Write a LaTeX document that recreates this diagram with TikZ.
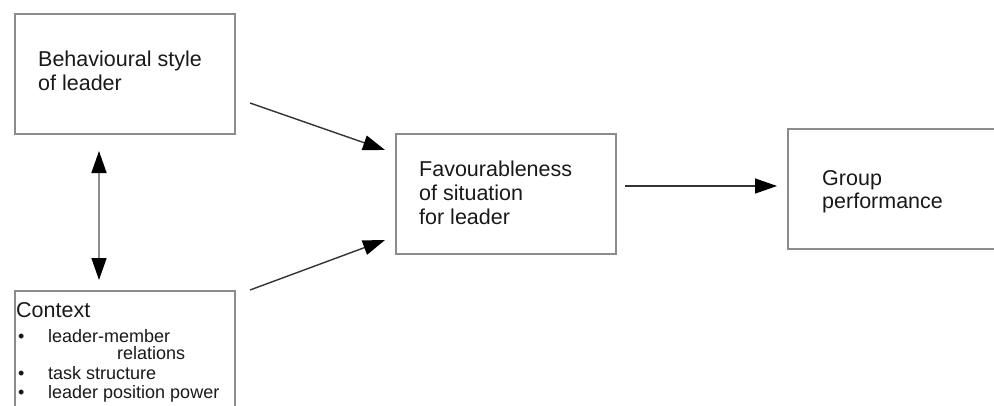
\documentclass[tikz,border=0pt]{standalone}
\usepackage{fontspec}
\setmainfont{Liberation Sans}
\usetikzlibrary{arrows.meta}
\begin{document}
\begin{tikzpicture}[x=1pt,y=-1pt,
  box/.style={draw=black!45,line width=1.1pt,inner sep=0pt},
  big/.style={font=\fontsize{21.5}{24}\selectfont,text=black!90,inner sep=0pt,anchor=base west},
  small/.style={font=\fontsize{18}{19}\selectfont,text=black!90,inner sep=0pt,anchor=base west},
  conn/.style={line width=1.4pt,draw=black!80,-{Triangle[length=22pt,width=15pt,color=black]}},
  conn2/.style={line width=1.4pt,draw=black!45,{Triangle[length=22pt,width=15pt,color=black]}-{Triangle[length=22pt,width=15pt,color=black]}}]
\useasboundingbox (0,0) rectangle (994,405);
\begin{scope}
\clip (0,0) rectangle (994,405);
\node[box,minimum width=220pt,minimum height=120pt] (b1) at (125,74) {};
\node[box,minimum width=220pt,minimum height=130pt] (b2) at (125,356) {};
\node[box,minimum width=220pt,minimum height=120pt] (b3) at (506,194) {};
\node[box,minimum width=220pt,minimum height=120pt] (b4) at (898,189) {};
\end{scope}
% texts
\node[big] (t1a) at (38,66) {Behavioural style};
\node[big] (t1b) at (38,90) {of leader};
\node[big] (t3a) at (419,176) {Favourableness};
\node[big] (t3b) at (419,200) {of situation};
\node[big] (t3c) at (419,224) {for leader};
\node[big] (t4a) at (822,185) {Group};
\node[big] (t4b) at (822,208) {performance};
\node[big] (t2a) at (16,317) {Context};
\node[small] (u1) at (18,342) {\textbullet};
\node[small] (t2b) at (48,342) {leader-member};
\node[small] (t2c) at (117,359) {relations};
\node[small] (u2) at (18,379) {\textbullet};
\node[small] (t2d) at (48,379) {task structure};
\node[small] (u3) at (18,398) {\textbullet};
\node[small] (t2e) at (48,398) {leader position power};
% connector end points
\coordinate (a1s) at (250,103);
\coordinate (a1e) at (385,150);
\coordinate (a2s) at (250,290);
\coordinate (a2e) at (385,240);
\coordinate (a3s) at (99,151);
\coordinate (a3e) at (99,280);
\coordinate (a4s) at (625,186);
\coordinate (a4e) at (777,186);
\draw[conn] (a1s) -- (a1e);
\draw[conn] (a2s) -- (a2e);
\draw[conn2] (a3s) -- (a3e);
\draw[conn] (a4s) -- (a4e);
\end{tikzpicture}
\end{document}
